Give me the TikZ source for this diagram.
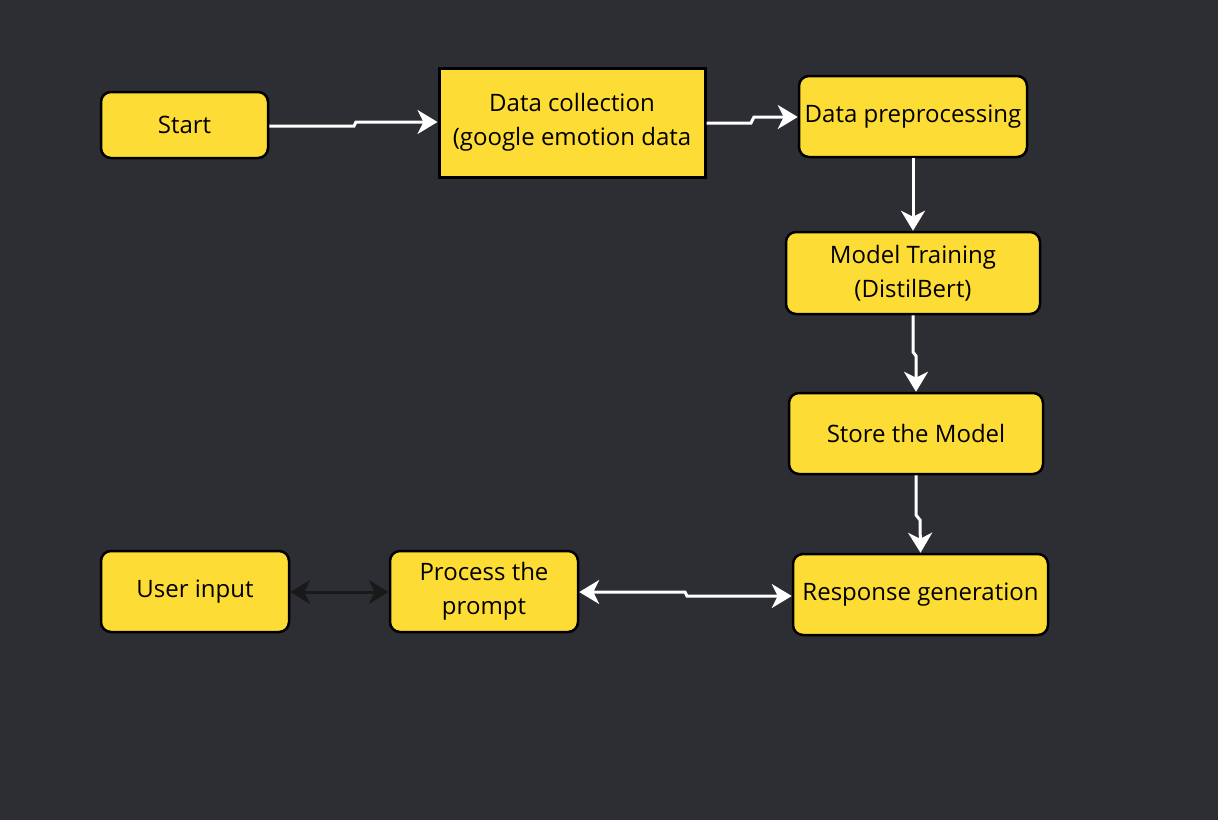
\documentclass[tikz,border=0pt]{standalone}
\usepackage{fontspec}
\setmainfont{Open Sans}
\usetikzlibrary{arrows.meta}
\definecolor{bgc}{HTML}{2D2E33}
\definecolor{ylw}{HTML}{FDDC35}
\tikzset{tip/.tip={Stealth[length=10pt,width=12pt,inset=3pt]}}
\begin{document}
\begin{tikzpicture}[x=0.5pt,y=-0.5pt,
  box/.style={draw=black,fill=ylw,line width=1.25pt,rounded corners=5pt,align=center,font=\fontsize{12}{17}\selectfont,inner sep=0pt},
  sqbox/.style={box,rounded corners=0pt,line width=1.5pt},
  wline/.style={draw=white,line width=1.5pt,-tip},
  bline/.style={draw=black!90,line width=1.5pt,tip-tip},
  wdbl/.style={draw=white,line width=1.5pt,tip-tip}]
\fill[bgc] (0,0) rectangle (1218,820);
\node[box,minimum width=83.5pt,minimum height=33pt] (start) at (184.5,125) {Start};
\node[sqbox,minimum width=133pt,minimum height=54.5pt] (dc) at (572,122.5) {Data collection\\(google emotion data};
\node[box,minimum width=114pt,minimum height=40.5pt] (dp) at (913,116.5) {Data preprocessing};
\node[box,minimum width=127pt,minimum height=41pt] (mt) at (913,273) {Model Training\\(DistilBert)};
\node[box,minimum width=127pt,minimum height=40.5pt] (sm) at (916,433.5) {Store the Model};
\node[box,minimum width=127.5pt,minimum height=40.5pt] (rg) at (920.5,594.5) {Response generation};
\node[box,minimum width=94pt,minimum height=40.5pt] (pp) at (484,591.5) {Process the\\prompt};
\node[box,minimum width=94pt,minimum height=40.5pt] (ui) at (195,591.5) {User input};
\draw[wline] (start.east |- 0,126) -- (354,126) -- (356,122) -- (dc.west |- 0,122);
\draw[wline] (dc.east |- 0,123) -- (751,123) -- (754,117) -- (dp.west |- 0,117);
\draw[wline] (dp.south) -- (mt.north);
\draw[wline] (mt.south) -- (913,352) -- (916,356) -- (sm.north);
\draw[wline] (sm.south) -- (916,515) -- (920,520) -- (rg.north);
\draw[wdbl] (pp.east |- 0,592) -- (685,592) -- (687,596) -- (rg.west |- 0,596);
\draw[bline] (ui.east |- 0,592) -- (pp.west |- 0,592);
\end{tikzpicture}
\end{document}
